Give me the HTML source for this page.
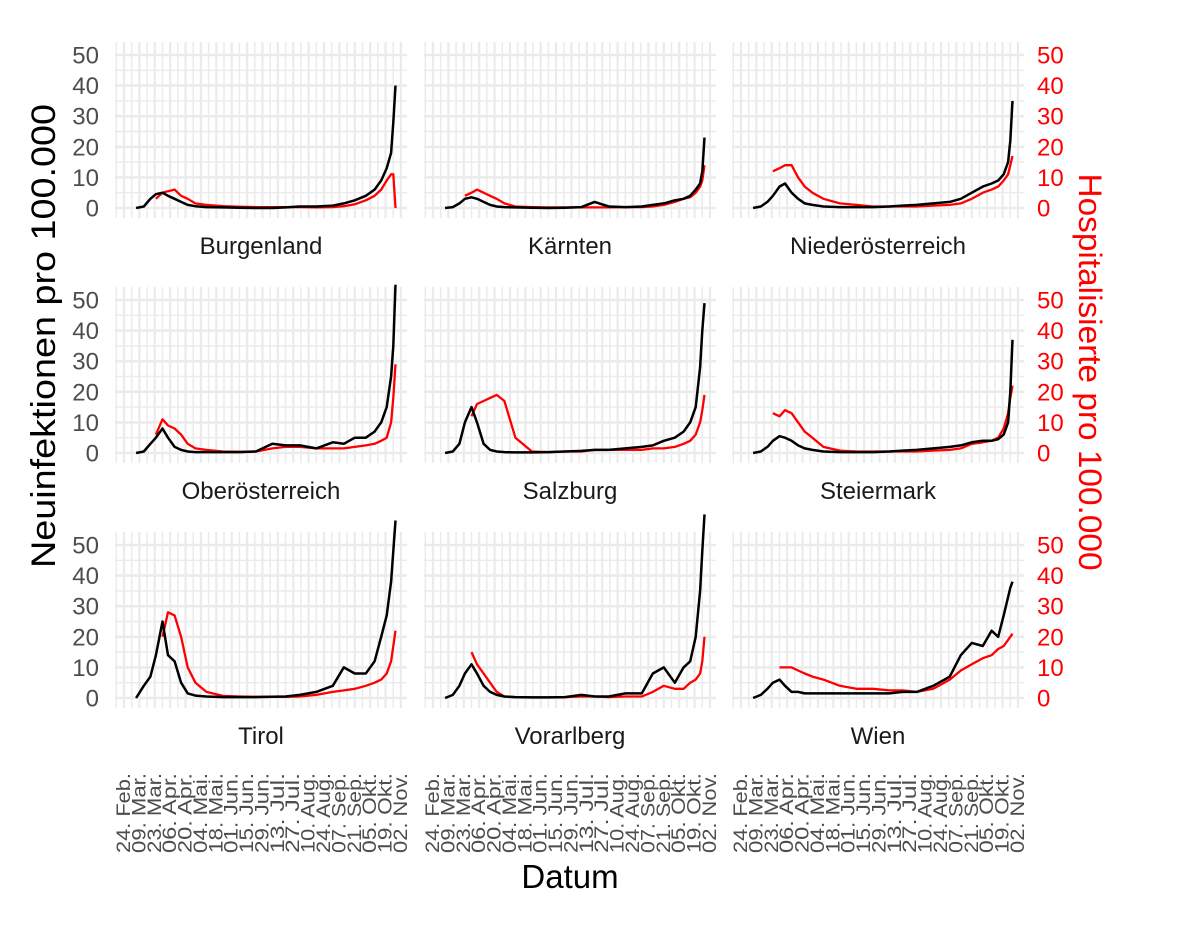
<!DOCTYPE html>
<html><head><meta charset="utf-8">
<style>html,body{margin:0;padding:0;background:#fff}svg{display:block}text{font-family:"Liberation Sans",sans-serif}</style>
</head><body>
<svg id="chart" width="1200" height="934" viewBox="0 0 1200 934" xmlns="http://www.w3.org/2000/svg"></svg>
<script>
const days = [11,18,24,29,35,40,46,52,58,65,75,90,105,120,135,147,160,175,190,200,210,220,228,234,239,243,245,247];
const regions = ["Burgenland","Kärnten","Niederösterreich","Oberösterreich","Salzburg","Steiermark","Tirol","Vorarlberg","Wien"];
const n = null;
const infBurgenland = [0,0.5,3,4.5,5,4,3,2,1,0.6,0.3,0.2,0.1,0,0,0.2,0.5,0.5,0.8,1.5,2.5,4,6,9,13,18,28,40];
const hospBurgenland = [n,n,n,3,5,5.5,6,4,3,1.5,1,0.6,0.4,0.3,0.3,0.3,0.3,0.2,0.3,0.6,1.2,2.5,4,6,9,11,11,0];
const infKaernten = [0,0.3,1.5,3,3.5,3,2,1,0.5,0.3,0.2,0.1,0,0.1,0.3,2,0.5,0.3,0.5,1,1.5,2.5,3,4,6,8,12,23];
const hospKaernten = [n,n,n,4,5,6,5,4,3,1.5,0.5,0.3,0.2,0.2,0.2,0.2,0.2,0.3,0.3,0.5,1,2,3,3.5,5,7,9,14];
const infNOE = [0,0.5,2,4,7,8,5,3,1.5,1,0.5,0.3,0.3,0.3,0.5,0.8,1,1.5,2,3,5,7,8,9,11,15,22,35];
const hospNOE = [n,n,n,12,13,14,14,10,7,5,3,1.5,1,0.5,0.5,0.5,0.5,0.8,1,1.5,3,5,6,7,9,11,14,17];
const infOOE = [0,0.5,3,5,8,5,2,1,0.5,0.3,0.3,0.3,0.3,0.5,3,2.5,2.5,1.5,3.5,3,5,5,7,10,15,25,35,55];
const hospOOE = [n,n,n,6,11,9,8,6,3,1.5,1,0.5,0.4,0.5,1.5,2,2,1.5,1.5,1.5,2,2.5,3,4,5,10,18,29];
const infSalzburg = [0,0.5,3,10,15,10,3,1,0.5,0.3,0.2,0.2,0.3,0.5,0.7,1,1,1.5,2,2.5,4,5,7,10,15,28,40,49];
const hospSalzburg = [n,n,n,n,12,16,17,18,19,17,5,0.5,0.3,0.5,0.5,1,1,1,1,1.5,1.5,2,3,4,6,10,14,19];
const infSteiermark = [0,0.5,2,4,5.5,5,4,2.5,1.5,1,0.5,0.3,0.3,0.3,0.5,0.8,1,1.5,2,2.5,3.5,4,4,4.5,6,10,20,37];
const hospSteiermark = [n,n,n,13,12,14,13,10,7,5,2,0.8,0.5,0.5,0.5,0.5,0.5,0.8,1,1.5,3,3.5,4,5,8,13,18,22];
const infTirol = [0,4,7,14,25,14,12,5,1.5,0.8,0.5,0.3,0.3,0.3,0.4,0.5,1,2,4,10,8,8,12,20,27,38,48,58];
const hospTirol = [n,n,n,n,20,28,27,20,10,5,2,0.7,0.5,0.4,0.4,0.4,0.5,1,2,2.5,3,4,5,6,8,12,17,22];
const infVorarlberg = [0,1,4,8,11,8,4,2,1,0.5,0.3,0.2,0.2,0.3,1,0.5,0.5,1.5,1.5,8,10,5,10,12,20,35,48,60];
const hospVorarlberg = [n,n,n,n,15,11,8,5,2,0.5,0.3,0.2,0.2,0.3,0.5,0.5,0.3,0.5,0.5,2,4,3,3,5,6,8,12,20];
const infWien = [0,1,3,5,6,4,2,2,1.5,1.5,1.5,1.5,1.5,1.5,1.5,2,2,4,7,14,18,17,22,20,27,33,36,38];
const hospWien = [n,n,n,n,10,10,10,9,8,7,6,4,3,3,2.5,2.5,2,3,6,9,11,13,14,16,17,19,20,21];
const infSeries = [infBurgenland,infKaernten,infNOE,infOOE,infSalzburg,infSteiermark,infTirol,infVorarlberg,infWien];
const hospSeries = [hospBurgenland,hospKaernten,hospNOE,hospOOE,hospSalzburg,hospSteiermark,hospTirol,hospVorarlberg,hospWien];
const yTicks = [0,10,20,30,40,50];
const xTickLabels = ["24. Feb.","09. Mar.","23. Mar.","06. Apr.","20. Apr.","04. Mai.","18. Mai.","01. Jun.","15. Jun.","29. Jun.","13. Jul.","27. Jul.","10. Aug.","24. Aug.","07. Sep.","21. Sep.","05. Okt.","19. Okt.","02. Nov."];

const NS="http://www.w3.org/2000/svg";
const svg=document.getElementById('chart');
function el(tag,attrs,parent,text){const e=document.createElementNS(NS,tag);for(const k in attrs)e.setAttribute(k,attrs[k]);if(text!==undefined)e.textContent=text;(parent||svg).appendChild(e);return e;}
const colX=[115,424,732], PW=292;
const zeroY=[208,453,698], PT=[42,287,532], PH=176;
const PXD=1.099, PXU=3.06;
function xs(c,d){return colX[c]+9+d*PXD;}
function ys(r,v){return zeroY[r]-v*PXU;}

for(let i=0;i<9;i++){
  const r=Math.floor(i/3), c=i%3;
  const g=el('g',{});
  
  
  for(let d=-7;d<=259;d+=7){
    const x=xs(c,d); if(x<colX[c]||x>colX[c]+PW)continue;
    const major=(d%14===0);
    el('line',{x1:x,x2:x,y1:PT[r],y2:PT[r]+PH,stroke:'#ebebeb','stroke-width':major?2.2:1.5},g);
  }
  for(let v=-5;v<=55;v+=5){
    const y=ys(r,v); if(y<PT[r]||y>PT[r]+PH)continue;
    el('line',{x1:colX[c],x2:colX[c]+PW,y1:y,y2:y,stroke:'#ebebeb','stroke-width':(v%10===0)?2.6:1.4},g);
  }
  function path(arr){let s='';let pen=false;arr.forEach((v,k)=>{if(v===null){pen=false;return;}s+=(pen?'L':'M')+xs(c,days[k]).toFixed(1)+','+ys(r,v).toFixed(1);pen=true;});return s;}
  const hp=el('path',{d:path(hospSeries[i]),fill:'none',stroke:'#ff0000','stroke-width':2.3,'stroke-linejoin':'round'},g);
  
  
  const ip=el('path',{d:path(infSeries[i]),fill:'none',stroke:'#000','stroke-width':2.5,'stroke-linejoin':'round'},g);
  
  
  const st=el('text',{x:colX[c]+PW/2,y:PT[r]+PH+36,'text-anchor':'middle','font-size':24,fill:'#1a1a1a'},g,regions[i]);
  
  
  if(c===0){yTicks.forEach(v=>{const t=el('text',{x:99,y:ys(r,v)+8.5,'text-anchor':'end','font-size':24,fill:'#4d4d4d'},g,String(v));});}
  if(c===2){yTicks.forEach(v=>{const t=el('text',{x:1037,y:ys(r,v)+8.5,'text-anchor':'start','font-size':24,fill:'#ff0000'},g,String(v));});}
  if(r===2){xTickLabels.forEach((lab,k)=>{const x=xs(c,k*14)+6;const t=el('text',{x:0,y:0,transform:'translate('+x.toFixed(1)+',773) rotate(-90)','text-anchor':'end','font-size':19,fill:'#4d4d4d',textLength:80,lengthAdjust:'spacingAndGlyphs'},g,lab);});}
}
const yt=el('text',{x:0,y:0,transform:'translate(55,336) rotate(-90)','text-anchor':'middle','font-size':34,fill:'#000',textLength:464,lengthAdjust:'spacingAndGlyphs'},svg,'Neuinfektionen pro 100.000');


const yt2=el('text',{x:0,y:0,transform:'translate(1079,372) rotate(90)','text-anchor':'middle','font-size':32,fill:'#ff0000',textLength:397,lengthAdjust:'spacingAndGlyphs'},svg,'Hospitalisierte pro 100.000');


const xt=el('text',{x:570,y:888,'text-anchor':'middle','font-size':33,fill:'#000'},svg,'Datum');


</script>
</body></html>
